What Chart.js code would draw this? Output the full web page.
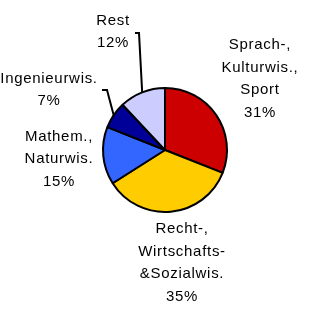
<!DOCTYPE html>
<html>
<head>
<meta charset="utf-8">
<script src="https://cdn.jsdelivr.net/npm/chart.js@4/dist/chart.umd.min.js"></script>
<style>
  html, body { margin: 0; padding: 0; background: #fff; }
  #wrap { width: 330px; height: 311px; }
</style>
</head>
<body>
<div id="wrap"><canvas id="pieChart" width="330" height="311"></canvas></div>
<script>
// Fächergruppen, im Uhrzeigersinn ab 12 Uhr
const groups = [
    ['Sprach-,', 'Kulturwis.,', 'Sport'],
    ['Recht-,', 'Wirtschafts-', '&Sozialwis.'],
    ['Mathem.,', 'Naturwis.'],
    ['Ingenieurwis.'],
    ['Rest']
];
const shares = [31, 35, 15, 7, 12];
const sliceColors = ['#CC0000', '#FFCC00', '#3366FF', '#000099', '#CCCCFF'];

// label block centre, relative to pie centre (px)
const labelOffsets = [[95, -71], [17, 113], [-106, 9], [-116, -60], [-52, -118]];
// leader lines: elbow + end of short tick, relative to pie centre (null = none)
const leaders = [null, null, null, [[-58, -60], [-63, -60]], [[-26, -117], [-30, -117]]];

const labelPlugin = {
    id: 'pieLabels',
    afterDatasetsDraw(chart) {
        const c = chart.ctx;
        const meta = chart.getDatasetMeta(0);
        c.save();
        c.font = '15px "Liberation Sans", Arial, sans-serif';
        c.letterSpacing = '0.7px';
        c.fillStyle = '#000';
        c.textAlign = 'center';
        c.textBaseline = 'middle';
        meta.data.forEach((arc, i) => {
            const cx = arc.x, cy = arc.y;
            const mid = (arc.startAngle + arc.endAngle) / 2;
            if (leaders[i]) {
                c.strokeStyle = '#000';
                c.lineWidth = 2;
                c.beginPath();
                c.moveTo(cx + Math.cos(mid) * arc.outerRadius, cy + Math.sin(mid) * arc.outerRadius);
                leaders[i].forEach(p => c.lineTo(cx + p[0], cy + p[1]));
                c.stroke();
            }
            const lines = groups[i].concat([shares[i] + '%']);
            const lh = 22.5;
            const x = cx + labelOffsets[i][0];
            const y0 = cy + labelOffsets[i][1] - (lines.length - 1) * lh / 2;
            lines.forEach((t, k) => c.fillText(t, x, y0 + k * lh));
        });
        c.restore();
    }
};

new Chart(document.getElementById('pieChart').getContext('2d'), {
    type: 'pie',
    data: {
        labels: groups.map(g => g.join(' ')),
        datasets: [{
            data: shares,
            backgroundColor: sliceColors,
            borderColor: '#000',
            borderWidth: 2
        }]
    },
    options: {
        responsive: false,
        animation: false,
        radius: 62,
        layout: { padding: { top: 0, bottom: 11, left: 0, right: 0 } },
        plugins: {
            legend: { display: false },
            tooltip: { enabled: false }
        }
    },
    plugins: [labelPlugin]
});
</script>
</body>
</html>
